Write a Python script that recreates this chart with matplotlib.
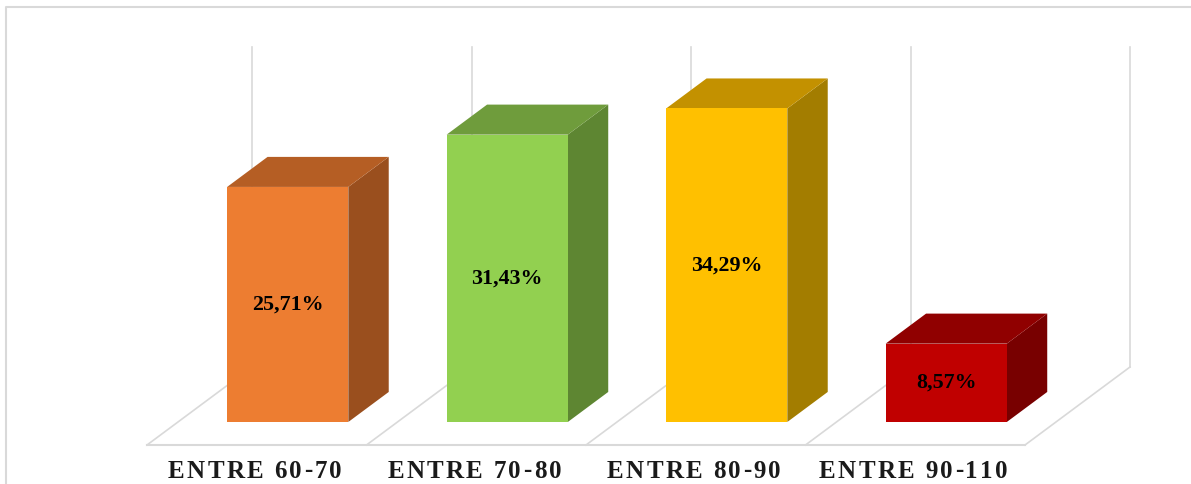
import matplotlib
matplotlib.use("Agg")
import matplotlib.pyplot as plt
from matplotlib.patches import Polygon
from matplotlib.font_manager import FontProperties
from matplotlib.textpath import TextToPath

# donnees ------------------------------------------
categories = ["ENTRE 60-70", "ENTRE 70-80", "ENTRE 80-90", "ENTRE 90-110"]
valeurs = [25.71, 31.43, 34.29, 8.57]
etiquettes = ["25,71%", "31,43%", "34,29%", "8,57%"]
c_face = ["#ED7D31", "#92D050", "#FFC000", "#C00000"]
c_haut = ["#B55E24", "#6F9C3C", "#C39100", "#900000"]
c_cote = ["#9A4F1E", "#5E8632", "#A37D00", "#780000"]
ymax = 35

# projection oblique (pixels) ----------------------
W, H = 1191, 484
ox, oy = 147, 445          # coin avant gauche du sol
larg_cat = 219.5
prof = (105, -78)          # vecteur profondeur du sol
haut_mur = 320             # hauteur du mur pour ymax

def proj(xc, v, d):
    px = ox + xc * larg_cat + d * prof[0]
    py = oy - v * haut_mur / ymax + d * prof[1]
    return (px, py)

fig = plt.figure(figsize=(W / 100, H / 100), dpi=100)
ax = fig.add_axes([0, 0, 1, 1])
ax.set_xlim(0, W)
ax.set_ylim(H, 0)
ax.axis("off")

gris = "#D9D9D9"
# cadre
ax.plot([6, 6, W], [H, 7, 7], color=gris, lw=1.5, zorder=0)

n = len(categories)
# sol + lignes du mur
p0, p1 = proj(0, 0, 0), proj(n, 0, 0)
ax.plot([p0[0], p1[0]], [p0[1], p1[1]], color=gris, lw=1.5, zorder=1)
for k in range(n + 1):
    a, b = proj(k, 0, 0), proj(k, 0, 1)
    ax.plot([a[0], b[0]], [a[1], b[1]], color=gris, lw=1.2, zorder=1)
    c = proj(k, ymax, 1)
    ax.plot([b[0], c[0]], [b[1], c[1]], color=gris, lw=1.2, zorder=1)

# barres 3D
demi = 0.276
d0, d1 = 0.295, 0.68
prop_val = FontProperties(family="Liberation Serif", weight="bold", size=15.8)
for i, v in enumerate(valeurs):
    x0, x1 = i + 0.5 - demi, i + 0.5 + demi
    face = [proj(x0, 0, d0), proj(x1, 0, d0), proj(x1, v, d0), proj(x0, v, d0)]
    cote = [proj(x1, 0, d0), proj(x1, 0, d1), proj(x1, v, d1), proj(x1, v, d0)]
    haut = [proj(x0, v, d0), proj(x1, v, d0), proj(x1, v, d1), proj(x0, v, d1)]
    ax.add_patch(Polygon(cote, closed=True, fc=c_cote[i], ec="none", zorder=3))
    ax.add_patch(Polygon(haut, closed=True, fc=c_haut[i], ec="none", zorder=3))
    ax.add_patch(Polygon(face, closed=True, fc=c_face[i], ec="none", zorder=4))
    cx, cy = proj(i + 0.5, v / 2, d0)
    ax.text(cx, cy, etiquettes[i], fontproperties=prop_val, color="black",
            ha="center", va="center", zorder=5)

# etiquettes des categories avec espacement des lettres
prop_cat = FontProperties(family="Liberation Serif", weight="bold", size=18)
t2p = TextToPath()
espace = 2.3

def largeur(ch):
    w, h, dsc = t2p.get_text_width_height_descent(ch, prop_cat, ismath=False)
    return w * 100 / 72

for i, lab in enumerate(categories):
    ws = [largeur(ch) for ch in lab]
    total = sum(ws) + espace * (len(lab) - 1)
    cx = proj(i + 0.5, 0, 0)[0] - 2
    x = cx - total / 2
    for ch, w in zip(lab, ws):
        ax.text(x, 471, ch, fontproperties=prop_cat, color="#1A1A1A",
                ha="left", va="center", zorder=5)
        x += w + espace

fig.savefig("out.png", dpi=100)
